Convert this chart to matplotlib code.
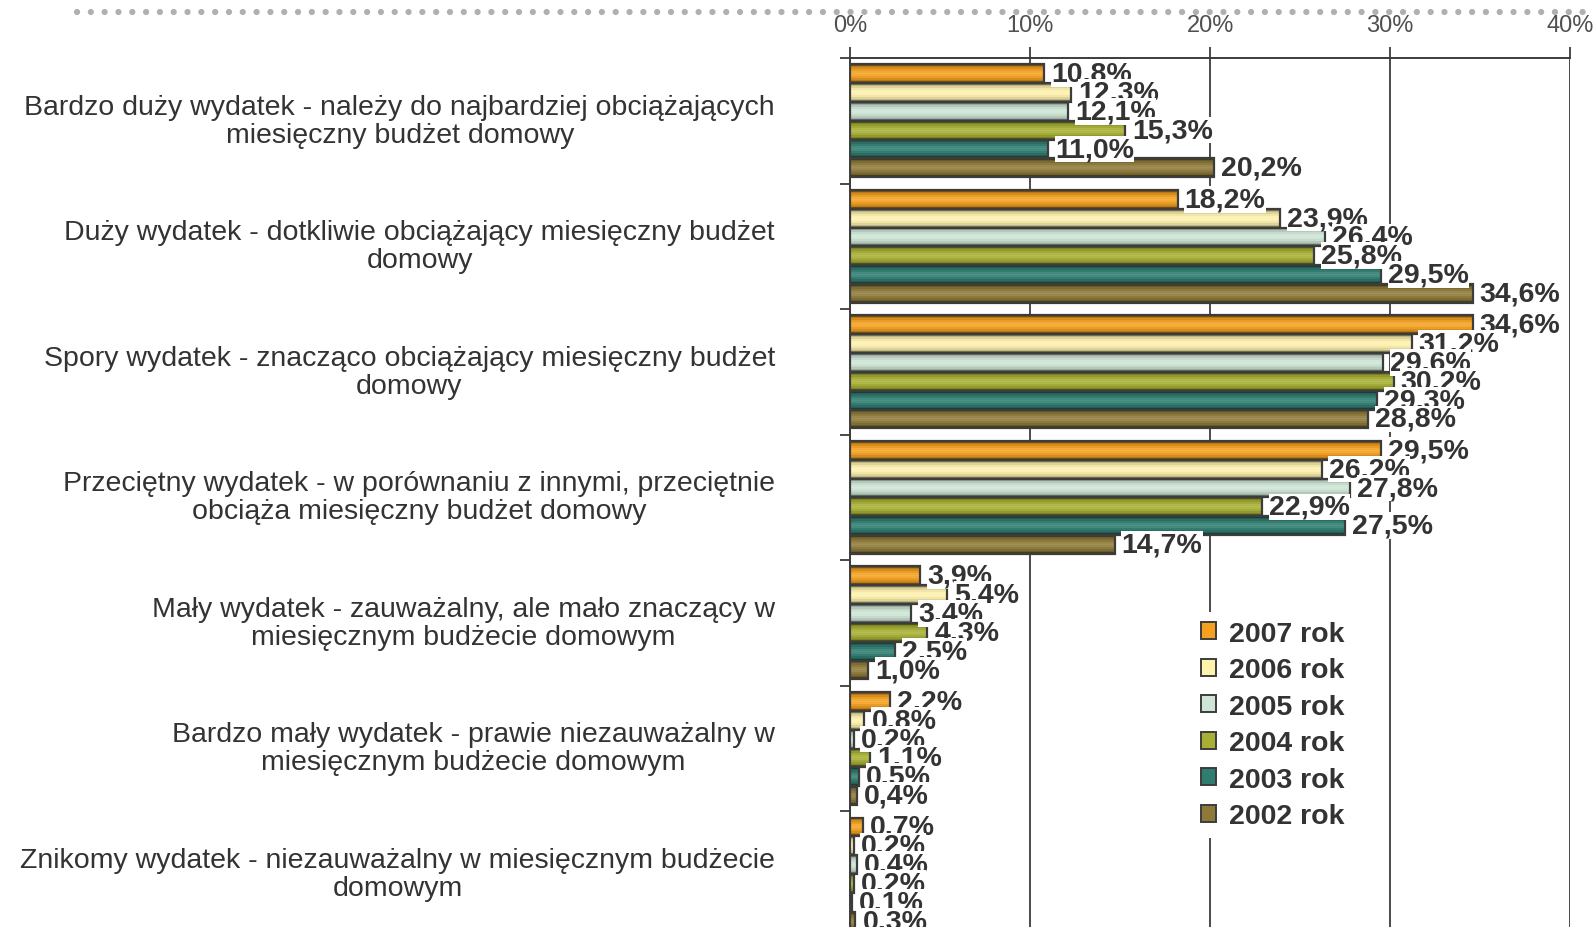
import numpy as np
import matplotlib
matplotlib.use("Agg")
import matplotlib.pyplot as plt
from matplotlib.patches import Patch
from matplotlib.lines import Line2D
from matplotlib import colors as mcolors
from matplotlib.transforms import ScaledTranslation

categories = [
    "Bardzo duży wydatek - należy do najbardziej obciążających\nmiesięczny budżet domowy",
    "Duży wydatek - dotkliwie obciążający miesięczny budżet\ndomowy",
    "Spory wydatek - znacząco obciążający miesięczny budżet\ndomowy",
    "Przeciętny wydatek - w porównaniu z innymi, przeciętnie\nobciąża miesięczny budżet domowy",
    "Mały wydatek - zauważalny, ale mało znaczący w\nmiesięcznym budżecie domowym",
    "Bardzo mały wydatek - prawie niezauważalny w\nmiesięcznym budżecie domowym",
    "Znikomy wydatek - niezauważalny w miesięcznym budżecie\ndomowym",
]
years = ["2007 rok", "2006 rok", "2005 rok", "2004 rok", "2003 rok", "2002 rok"]
v2007 = [10.8, 18.2, 34.6, 29.5, 3.9, 2.2, 0.7]
v2006 = [12.3, 23.9, 31.2, 26.2, 5.4, 0.8, 0.2]
v2005 = [12.1, 26.4, 29.6, 27.8, 3.4, 0.2, 0.4]
v2004 = [15.3, 25.8, 30.2, 22.9, 4.3, 1.1, 0.2]
v2003 = [11.0, 29.5, 29.3, 27.5, 2.5, 0.5, 0.1]
v2002 = [20.2, 34.6, 28.8, 14.7, 1.0, 0.4, 0.3]
series = [v2007, v2006, v2005, v2004, v2003, v2002]
colors = ["#f5a11f", "#fff2ad", "#cfe6d6", "#a7b034", "#2f7d70", "#8e7a38"]
x_ticks = [0, 10, 20, 30, 40]

plt.rcParams["font.family"] = ["Liberation Sans", "DejaVu Sans"]

TXT = "#333333"
EDGE = "#3c3c3c"

fig = plt.figure(figsize=(15.94, 9.28), dpi=100)
ax = fig.add_axes([0.5333, -0.0106, 0.4517, 0.947])

bar_h = 0.15
n = len(series)


def shade(color, rows=11):
    # striped vertical shading: darker rims, lighter middle
    base = np.array(mcolors.to_rgb(color))
    dark = base * 0.5
    light = base + (1 - base) * 0.25
    t = np.linspace(0, 1, rows)
    w = np.sin(np.pi * t) ** 0.6
    rgb = dark[None, :] * (1 - w[:, None]) + base[None, :] * w[:, None]
    mid = np.exp(-((t - 0.5) / 0.18) ** 2)
    rgb = rgb * (1 - 0.6 * mid[:, None]) + light[None, :] * 0.6 * mid[:, None]
    return np.clip(rgb, 0, 1)[:, None, :]


for j, (vals, col) in enumerate(zip(series, colors)):
    ys = np.arange(len(categories)) + (j - (n - 1) / 2) * bar_h
    img = shade(col)
    for y, v in zip(ys, vals):
        ax.imshow(img, extent=[0, v, y - bar_h / 2, y + bar_h / 2], origin="upper",
                  aspect="auto", interpolation="nearest", zorder=2)
    ax.barh(ys, vals, height=bar_h, fill=False, edgecolor=EDGE, linewidth=1.6, zorder=3)
    for y, v in zip(ys, vals):
        ax.annotate(f"{v:.1f}%".replace(".", ","), xy=(v, y), xytext=(5, 0),
                    textcoords="offset points", ha="left", va="center",
                    fontsize=20.5, fontweight="bold", color=TXT, zorder=4,
                    bbox=dict(facecolor="white", edgecolor="none", pad=0.2))

ax.set_xlim(0, 40)
ax.set_ylim(len(categories) - 0.5, -0.5)

ax.xaxis.tick_top()
ax.set_xticks(x_ticks)
ax.set_xticklabels([f"{t}%" for t in x_ticks], fontsize=17, color="#505050")
ax.tick_params(axis="x", direction="out", length=8, width=1.3, color=EDGE, pad=8)
ax.grid(axis="x", color=EDGE, linewidth=1.3, zorder=1)
ax.set_axisbelow(True)

ax.set_yticks(range(len(categories)))
ax.set_yticklabels(categories, fontsize=20.5, color=TXT, multialignment="center",
                   linespacing=1.1)
ax.tick_params(axis="y", length=0, pad=54)
# lift the category captions a touch
lift = ScaledTranslation(0, 3 / 72, fig.dpi_scale_trans)
for lbl in ax.get_yticklabels():
    lbl.set_transform(lbl.get_transform() + lift)
ax.set_yticks(np.arange(-0.5, len(categories), 1), minor=True)
ax.tick_params(axis="y", which="minor", direction="out", length=7, width=1.3, color=EDGE)

for side in ["right", "bottom"]:
    ax.spines[side].set_visible(False)
for side in ["left", "top"]:
    ax.spines[side].set_color(EDGE)
    ax.spines[side].set_linewidth(1.4)

handles = [Patch(facecolor=c, edgecolor=EDGE, linewidth=1.4) for c in colors]
leg = ax.legend(handles, years, loc="upper left", bbox_to_anchor=(1178 / 1594, 1 - 599 / 928),
                bbox_transform=fig.transFigure, frameon=True, framealpha=1,
                facecolor="white", edgecolor="none", fancybox=False,
                prop={"size": 20.5, "weight": "bold"}, handlelength=0.55, handleheight=0.55,
                handletextpad=0.45, labelspacing=0.37, borderpad=0.3)
for t in leg.get_texts():
    t.set_color(TXT)
leg.set_zorder(5)

# dotted rule under the heading
fig.add_artist(Line2D([77 / 1594, 1], [1 - 13 / 928] * 2, transform=fig.transFigure,
                      color="#b0b0b0", linewidth=4.5, linestyle=(0, (0.01, 2.2)),
                      dash_capstyle="round"))

fig.savefig("out.png", dpi=100)
